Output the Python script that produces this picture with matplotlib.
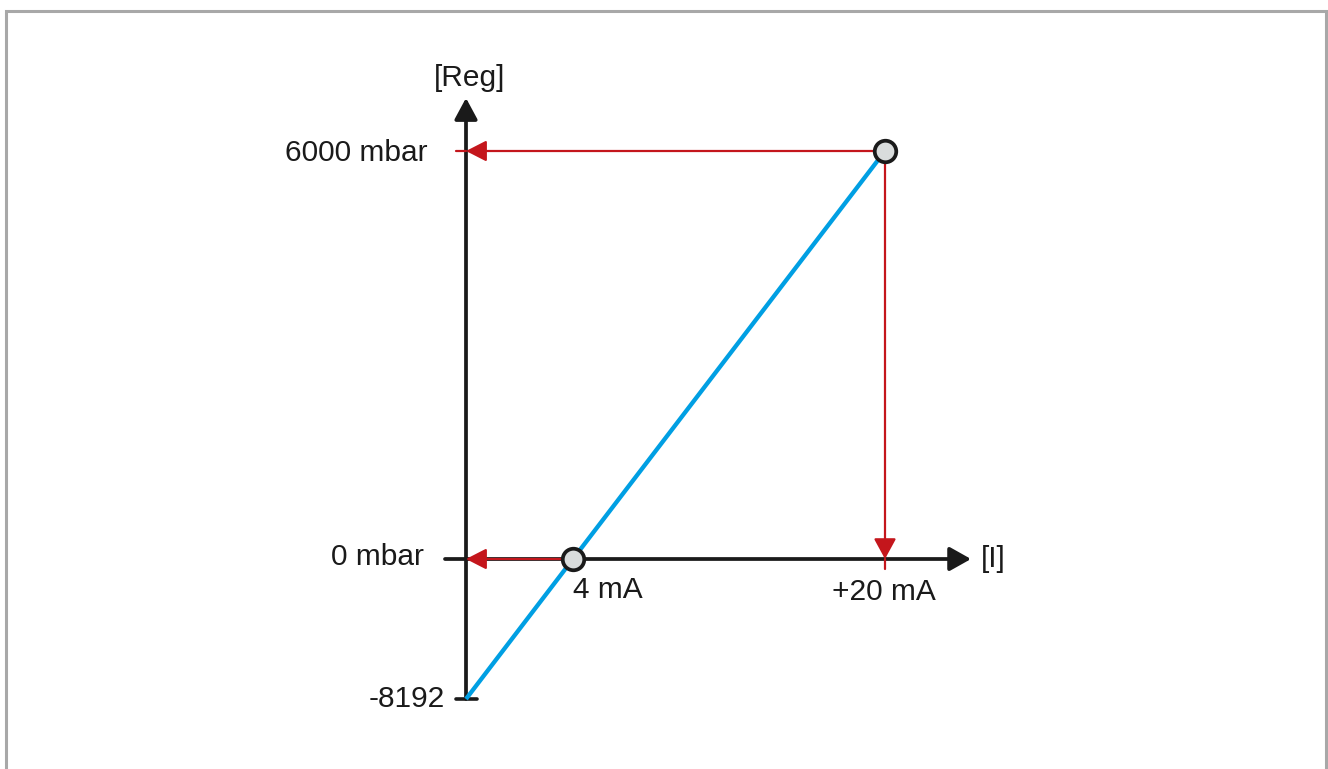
import numpy as np
import matplotlib
matplotlib.use("Agg")
import matplotlib.pyplot as plt
from matplotlib.patches import Rectangle

# ---------------- data ----------------
current_mA = [4, 20]                      # marked input currents
current_labels = ["4 mA", "+20 mA"]
register_mbar = [0, 6000]                 # register values at those currents
register_labels = ["0 mbar", "6000 mbar"]
register_min = -8192
register_min_label = "-8192"
axis_current = 0                          # current at which the [Reg] axis stands
line_current = [0, 4, 20]                 # transfer line
line_register = [-8192, 0, 6000]
x_axis_label = "[I]"
y_axis_label = "[Reg]"

# ---------------- schematic (non-linear) scales ----------------
W, H = 1328, 769
x_val = np.array([-1000.0, 0.0, 4.0, 20.0, 1000.0])
x_pix = np.array([466 - 1000 * 26.75, 466, 573, 885, 885 + 980 * 19.5])
y_val = np.array([-1e6, -8192.0, 0.0, 6000.0, 1e6])
y_pix = np.array([699 + (1e6 - 8192) * 140 / 8192, 699, 559, 151,
                  151 - (1e6 - 6000) * 408 / 6000])
y_up = H - y_pix


def fx(v):
    return np.interp(v, x_val, x_pix)


def fx_inv(p):
    return np.interp(p, x_pix, x_val)


def fy(v):
    return np.interp(v, y_val, y_up)


def fy_inv(p):
    return np.interp(p, y_up, y_val)


fig = plt.figure(figsize=(W / 100, H / 100), dpi=100)
ax = fig.add_axes([0, 0, 1, 1])
ax.set_xscale("function", functions=(fx, fx_inv))
ax.set_yscale("function", functions=(fy, fy_inv))
ax.set_xlim(fx_inv(0), fx_inv(W))
ax.set_ylim(fy_inv(0), fy_inv(H))
ax.axis("off")

BLACK = "#1a1a1a"
RED = "#c4161c"
BLUE = "#009fe3"
FONT = "Liberation Sans"
FS = 21.5


def seg(p0, p1, color, lw, style="-", z=2, hl=13, hw=6.8):
    if style == "-|>":
        st = f"-|>,head_length={hl},head_width={hw}"
    else:
        st = "-"
    ax.annotate("", xy=p1, xycoords="data", xytext=p0, textcoords="data",
                arrowprops=dict(arrowstyle=st, color=color, lw=lw,
                                shrinkA=0, shrinkB=0, mutation_scale=1,
                                patchA=None, patchB=None),
                zorder=z, annotation_clip=False)


def off_pt(x, y, dx, dy):
    """data point shifted by (dx, dy) pixels -> data coords"""
    disp = ax.transData.transform((x, y)) + np.array([dx, dy])
    return tuple(ax.transData.inverted().transform(disp))


fig.canvas.draw()

# border
fig.add_artist(Rectangle((5.5 / W, -0.05), (1326 - 5.5) / W,
                         (H - 10.5) / H + 0.05, transform=fig.transFigure,
                         fill=False, ec="#a8a8a8", lw=2.2))

# axes
seg((axis_current, register_min),
    off_pt(axis_current, register_mbar[1], 0, 53),
    BLACK, 2.7, "-|>", z=2, hl=13, hw=7.0)
seg(off_pt(axis_current, register_mbar[0], -21, 0),
    off_pt(current_mA[1], register_mbar[0], 86, 0),
    BLACK, 2.7, "-|>", z=2, hl=13, hw=7.3)
# -8192 tick
seg(off_pt(axis_current, register_min, -10, 0),
    off_pt(axis_current, register_min, 11, 0), BLACK, 2.6, z=2)

# transfer line
ax.plot(line_current, line_register, color=BLUE, lw=3.1,
        solid_capstyle="butt", zorder=3)

# red arrows
seg((current_mA[1], register_mbar[1]), (axis_current, register_mbar[1]),
    RED, 1.6, "-|>", z=4, hl=12.5, hw=6.4)
seg((axis_current, register_mbar[1]),
    off_pt(axis_current, register_mbar[1], -10, 0), RED, 1.6, z=4)
seg((current_mA[1], register_mbar[1]), (current_mA[1], register_mbar[0]),
    RED, 1.6, "-|>", z=4, hl=12.5, hw=6.8)
seg((current_mA[1], register_mbar[0]),
    off_pt(current_mA[1], register_mbar[0], 0, -10), RED, 1.6, z=4)
seg((current_mA[0], register_mbar[0]), (axis_current, register_mbar[0]),
    RED, 1.6, "-|>", z=4, hl=12.5, hw=6.4)

# markers
ax.plot(current_mA, register_mbar, "o", ms=15.5, mfc="#d9dcdc", mec=BLACK,
        mew=2.7, zorder=6)


# texts
def label(txt, x, y, dx, dy, ha):
    ax.annotate(txt, xy=(x, y), xytext=(dx, dy), textcoords="offset pixels",
                ha=ha, va="baseline", fontsize=FS, family=FONT, color=BLACK,
                annotation_clip=False, zorder=7)


label(y_axis_label, axis_current, register_mbar[1], 4, 65, "center")
label(register_labels[1], axis_current, register_mbar[1], -39, -10, "right")
label(register_labels[0], axis_current, register_mbar[0], -42, -6, "right")
label(register_min_label, axis_current, register_min, -21, -8, "right")
label(current_labels[0], current_mA[0], register_mbar[0], 0, -39, "left")
label(current_labels[1], current_mA[1], register_mbar[0], -1, -41, "center")
label(x_axis_label, current_mA[1], register_mbar[0], 96, -8, "left")

fig.savefig("out.png", dpi=100)
